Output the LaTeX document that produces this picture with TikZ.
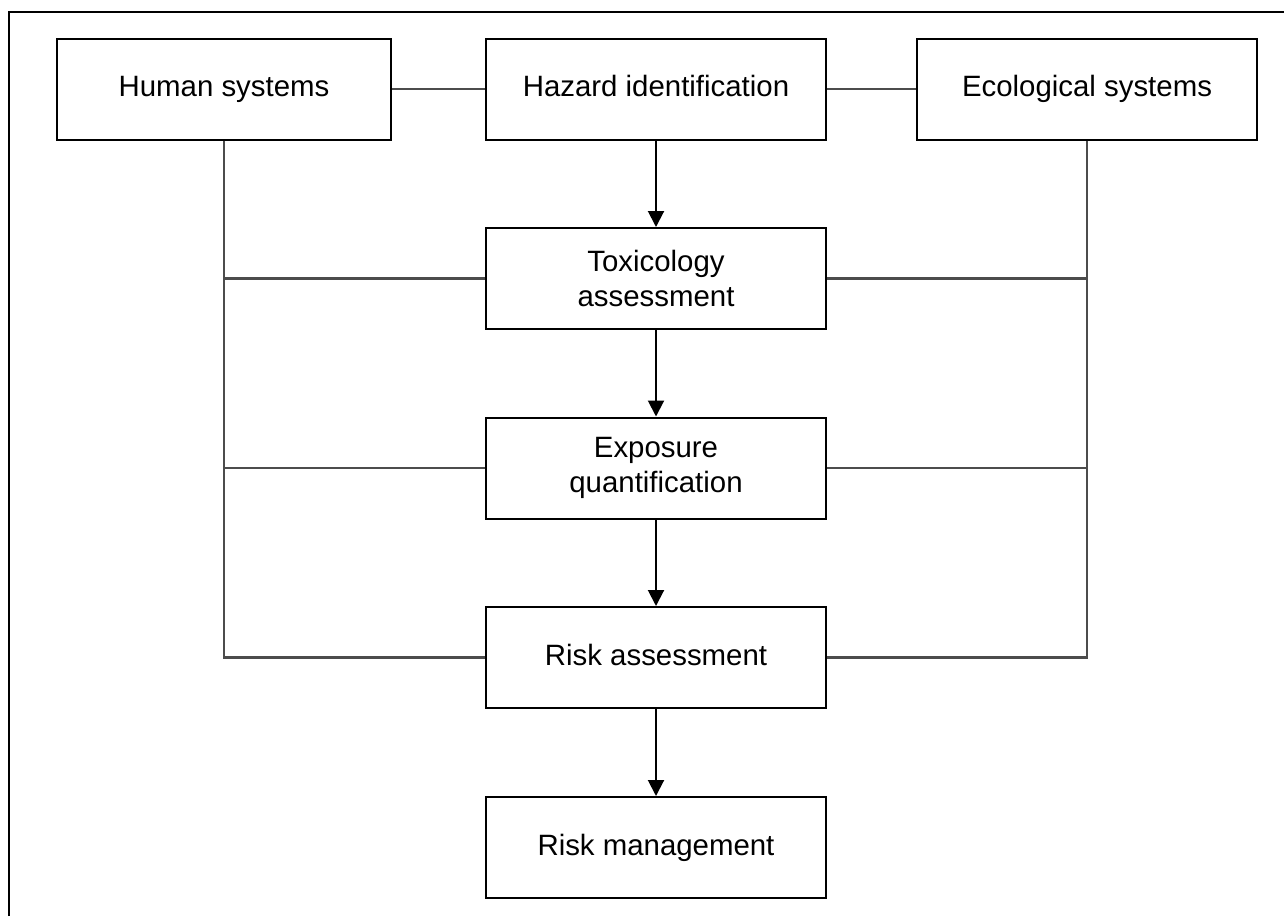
\documentclass[tikz,border=0pt]{standalone}
\usepackage{fontspec}
\setmainfont{Liberation Sans}
\usetikzlibrary{arrows.meta}
\begin{document}
\begin{tikzpicture}[
        x=0.5pt, y=-0.5pt,
        box/.style={draw, line width=1pt, minimum width=170pt, minimum height=50.5pt,
            align=center, inner sep=0pt, font=\fontsize{14.7}{17.5}\selectfont},
        oneline/.style={box, text height=10.6pt, text depth=3.1pt},
        link/.style={draw=black!70, line width=1.1pt},
        flow/.style={line width=1pt, -{Triangle[length=8pt, width=8pt]}}
    ]
    \useasboundingbox (0,0) rectangle (1284,916);
    \draw[line width=1.1pt] (9,916) -- (9,12) -- (1284,12);
    % top row
    \node[oneline, minimum width=167pt] (human) at (224,89) {Human systems};
    \node[oneline] (hazard) at (656,89) {Hazard identification};
    \node[oneline] (eco) at (1087,89) {Ecological systems};
    % middle column
    \node[box] (tox) at (656,278.5) {Toxicology\\assessment};
    \node[box] (expo) at (656,468) {Exposure\\quantification};
    \node[oneline] (riska) at (656,657.5) {Risk assessment};
    \node[oneline] (riskm) at (656,847.5) {Risk management};
    % arrows down the middle
    \draw[flow] (hazard) -- (tox);
    \draw[flow] (tox) -- (expo);
    \draw[flow] (expo) -- (riska);
    \draw[flow] (riska) -- (riskm);
    % links
    \draw[link] (human) -- (hazard);
    \draw[link] (hazard) -- (eco);
    \draw[link] (human.south) -- (human.south |- riska.west) -- (riska.west);
    \draw[link] (eco.south) -- (eco.south |- riska.east) -- (riska.east);
    \draw[link] (tox.west) -- (tox.west -| human.south);
    \draw[link] (expo.west) -- (expo.west -| human.south);
    \draw[link] (tox.east) -- (tox.east -| eco.south);
    \draw[link] (expo.east) -- (expo.east -| eco.south);
\end{tikzpicture}
\end{document}
